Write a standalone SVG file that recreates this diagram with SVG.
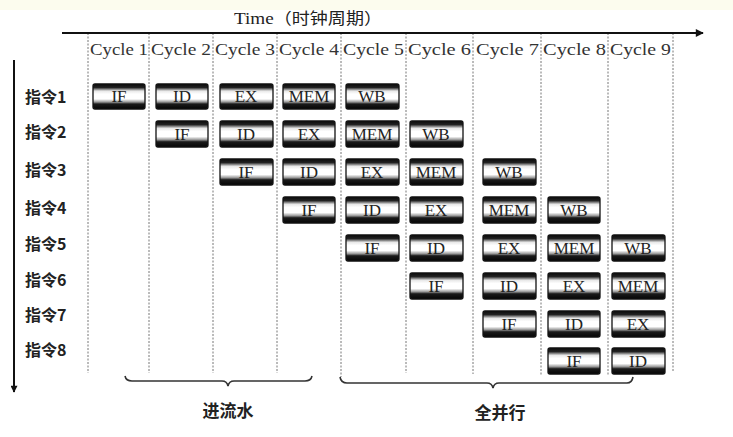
<svg xmlns="http://www.w3.org/2000/svg" width="733" height="437" viewBox="0 0 733 437">
<defs>
<linearGradient id="bar" x1="0" y1="0" x2="0" y2="1">
<stop offset="0" stop-color="#0a0a0a"/>
<stop offset="0.14" stop-color="#222"/>
<stop offset="0.28" stop-color="#e8e8e8"/>
<stop offset="0.4" stop-color="#fff"/>
<stop offset="0.6" stop-color="#fff"/>
<stop offset="0.72" stop-color="#999"/>
<stop offset="0.8" stop-color="#1a1a1a"/>
<stop offset="1" stop-color="#050505"/>
</linearGradient>
<marker id="ah" viewBox="0 0 10 10" refX="9" refY="5" markerWidth="14" markerHeight="8" markerUnits="userSpaceOnUse" orient="auto">
<path d="M0,0 L10,5 L0,10 Z" fill="#111"/>
</marker>
<marker id="av" viewBox="0 0 10 10" refX="9" refY="5" markerWidth="14" markerHeight="7" markerUnits="userSpaceOnUse" orient="auto">
<path d="M0,0 L10,5 L0,10 Z" fill="#111"/>
</marker>
</defs>
<style>
.bx rect{fill:url(#bar);stroke:#111;stroke-width:1.3}
.bx text{font-family:"Liberation Serif",serif;font-size:17px;fill:#222;text-anchor:middle}
.cyc{font-family:"Liberation Serif",serif;font-size:17px;fill:#333}
.row{font-family:"Noto Sans CJK SC","Liberation Sans",sans-serif;font-size:16px;font-weight:bold;fill:#222}
.grid{stroke:#777;stroke-width:1;stroke-dasharray:2 1.5;fill:none}
.brace{stroke:#333;stroke-width:1.6;fill:none}
.lbl{font-family:"Noto Sans CJK SC",sans-serif;font-size:17px;font-weight:bold;fill:#222;text-anchor:middle}
</style>
<rect x="0" y="0" width="733" height="437" fill="#fff"/>
<rect x="0" y="0" width="733" height="10" fill="#fcfcee"/>

<g id="grid">
<line class="grid" x1="88" y1="33" x2="88" y2="373"/>
<line class="grid" x1="149" y1="33" x2="149" y2="373"/>
<line class="grid" x1="213" y1="33" x2="213" y2="373"/>
<line class="grid" x1="277" y1="33" x2="277" y2="373"/>
<line class="grid" x1="341" y1="33" x2="341" y2="377"/>
<line class="grid" x1="406" y1="33" x2="406" y2="373"/>
<line class="grid" x1="473" y1="33" x2="473" y2="374"/>
<line class="grid" x1="541" y1="33" x2="541" y2="375"/>
<line class="grid" x1="608" y1="33" x2="608" y2="375"/>
<line class="grid" x1="673" y1="33" x2="673" y2="372"/>
</g>

<g id="connectors">
<line x1="62" y1="33" x2="703" y2="33" stroke="#111" stroke-width="2" marker-end="url(#ah)"/>
<line x1="14" y1="60" x2="14" y2="392" stroke="#111" stroke-width="2" marker-end="url(#av)"/>
<path class="brace" d="M125,376 Q126,381 132,381 L222,381 Q227,381 228,386 Q229,381 234,381 L305,381 Q311,381 312,376"/>
<path class="brace" d="M340,377 Q341,383 347,383 L487,383 Q492,383 493,388 Q494,383 499,383 L627,383 Q632,383 633,377"/>
</g>

<g id="title"><text x="234" y="24" font-family="'Liberation Serif','Noto Sans CJK SC',serif" font-size="17" fill="#222" textLength="148" lengthAdjust="spacingAndGlyphs">Time<tspan font-family="'Noto Sans CJK SC',sans-serif" font-size="16">（时钟周期）</tspan></text></g>

<g id="cycles">
<text class="cyc" x="90" y="55" textLength="58" lengthAdjust="spacingAndGlyphs">Cycle 1</text>
<text class="cyc" x="151" y="55" textLength="60" lengthAdjust="spacingAndGlyphs">Cycle 2</text>
<text class="cyc" x="215" y="55" textLength="60" lengthAdjust="spacingAndGlyphs">Cycle 3</text>
<text class="cyc" x="279" y="55" textLength="60" lengthAdjust="spacingAndGlyphs">Cycle 4</text>
<text class="cyc" x="343" y="55" textLength="61" lengthAdjust="spacingAndGlyphs">Cycle 5</text>
<text class="cyc" x="408" y="55" textLength="63" lengthAdjust="spacingAndGlyphs">Cycle 6</text>
<text class="cyc" x="476" y="55" textLength="63" lengthAdjust="spacingAndGlyphs">Cycle 7</text>
<text class="cyc" x="543" y="55" textLength="63" lengthAdjust="spacingAndGlyphs">Cycle 8</text>
<text class="cyc" x="610" y="55" textLength="61" lengthAdjust="spacingAndGlyphs">Cycle 9</text>
</g>

<g id="rows">
<text class="row" x="25" y="103">指令1</text>
<text class="row" x="25" y="138">指令2</text>
<text class="row" x="25" y="176">指令3</text>
<text class="row" x="25" y="214">指令4</text>
<text class="row" x="25" y="250">指令5</text>
<text class="row" x="25" y="286">指令6</text>
<text class="row" x="25" y="321">指令7</text>
<text class="row" x="25" y="356">指令8</text>
</g>

<g id="i1">
<g id="i1-IF" class="bx"><rect x="93" y="84" width="52" height="25" rx="2"/><text x="119" y="102">IF</text></g>
<g id="i1-ID" class="bx"><rect x="156" y="84" width="52" height="25" rx="2"/><text x="182" y="102">ID</text></g>
<g id="i1-EX" class="bx"><rect x="220" y="84" width="53" height="25" rx="2"/><text x="246" y="102">EX</text></g>
<g id="i1-MEM" class="bx"><rect x="283" y="84" width="52" height="25" rx="2"/><text x="309" y="102">MEM</text></g>
<g id="i1-WB" class="bx"><rect x="346" y="84" width="53" height="25" rx="2"/><text x="372" y="102">WB</text></g>
</g>
<g id="i2">
<g id="i2-IF" class="bx"><rect x="156" y="121" width="52" height="26" rx="2"/><text x="182" y="140">IF</text></g>
<g id="i2-ID" class="bx"><rect x="220" y="121" width="53" height="26" rx="2"/><text x="246" y="140">ID</text></g>
<g id="i2-EX" class="bx"><rect x="283" y="121" width="52" height="26" rx="2"/><text x="309" y="140">EX</text></g>
<g id="i2-MEM" class="bx"><rect x="346" y="121" width="53" height="26" rx="2"/><text x="372" y="140">MEM</text></g>
<g id="i2-WB" class="bx"><rect x="410" y="121" width="53" height="26" rx="2"/><text x="436" y="140">WB</text></g>
</g>
<g id="i3">
<g id="i3-IF" class="bx"><rect x="220" y="159" width="53" height="26" rx="2"/><text x="246" y="178">IF</text></g>
<g id="i3-ID" class="bx"><rect x="283" y="159" width="52" height="26" rx="2"/><text x="309" y="178">ID</text></g>
<g id="i3-EX" class="bx"><rect x="346" y="159" width="53" height="26" rx="2"/><text x="372" y="178">EX</text></g>
<g id="i3-MEM" class="bx"><rect x="410" y="159" width="53" height="26" rx="2"/><text x="436" y="178">MEM</text></g>
<g id="i3-WB" class="bx"><rect x="483" y="159" width="53" height="26" rx="2"/><text x="509" y="178">WB</text></g>
</g>
<g id="i4">
<g id="i4-IF" class="bx"><rect x="283" y="197" width="52" height="26" rx="2"/><text x="309" y="216">IF</text></g>
<g id="i4-ID" class="bx"><rect x="346" y="197" width="53" height="26" rx="2"/><text x="372" y="216">ID</text></g>
<g id="i4-EX" class="bx"><rect x="410" y="197" width="53" height="26" rx="2"/><text x="436" y="216">EX</text></g>
<g id="i4-MEM" class="bx"><rect x="483" y="197" width="53" height="26" rx="2"/><text x="509" y="216">MEM</text></g>
<g id="i4-WB" class="bx"><rect x="548" y="197" width="52" height="26" rx="2"/><text x="574" y="216">WB</text></g>
</g>
<g id="i5">
<g id="i5-IF" class="bx"><rect x="346" y="235" width="53" height="26" rx="2"/><text x="372" y="254">IF</text></g>
<g id="i5-ID" class="bx"><rect x="410" y="235" width="53" height="26" rx="2"/><text x="436" y="254">ID</text></g>
<g id="i5-EX" class="bx"><rect x="483" y="235" width="53" height="26" rx="2"/><text x="509" y="254">EX</text></g>
<g id="i5-MEM" class="bx"><rect x="548" y="235" width="52" height="26" rx="2"/><text x="574" y="254">MEM</text></g>
<g id="i5-WB" class="bx"><rect x="612" y="235" width="53" height="26" rx="2"/><text x="638" y="254">WB</text></g>
</g>
<g id="i6">
<g id="i6-IF" class="bx"><rect x="410" y="273" width="53" height="26" rx="2"/><text x="436" y="292">IF</text></g>
<g id="i6-ID" class="bx"><rect x="483" y="273" width="53" height="26" rx="2"/><text x="509" y="292">ID</text></g>
<g id="i6-EX" class="bx"><rect x="548" y="273" width="52" height="26" rx="2"/><text x="574" y="292">EX</text></g>
<g id="i6-MEM" class="bx"><rect x="612" y="273" width="53" height="26" rx="2"/><text x="638" y="292">MEM</text></g>
</g>
<g id="i7">
<g id="i7-IF" class="bx"><rect x="483" y="311" width="53" height="26" rx="2"/><text x="509" y="330">IF</text></g>
<g id="i7-ID" class="bx"><rect x="548" y="311" width="52" height="26" rx="2"/><text x="574" y="330">ID</text></g>
<g id="i7-EX" class="bx"><rect x="612" y="311" width="53" height="26" rx="2"/><text x="638" y="330">EX</text></g>
</g>
<g id="i8">
<g id="i8-IF" class="bx"><rect x="548" y="348" width="52" height="26" rx="2"/><text x="574" y="367">IF</text></g>
<g id="i8-ID" class="bx"><rect x="612" y="348" width="53" height="26" rx="2"/><text x="638" y="367">ID</text></g>
</g>

<g id="labels">
<text class="lbl" x="228" y="417">进流水</text>
<text class="lbl" x="500" y="419">全并行</text>
</g>
</svg>
